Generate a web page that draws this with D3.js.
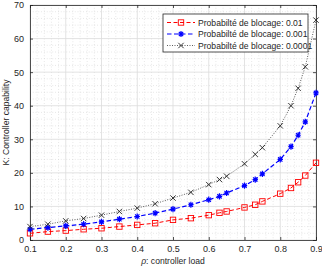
<!DOCTYPE html>
<meta charset="utf-8">
<style>
body { margin: 0; background: #fff; }
svg { font-family: "Liberation Sans", Arial, sans-serif; }
.tick text { font-size: 9px; fill: #262626; }
</style>
<div id="chart"></div>
<script src="https://d3js.org/d3.v7.min.js"></script>
<script>

var loads = [0.1,0.15,0.2,0.25,0.3,0.35,0.4,0.45,0.5,0.55,0.6,0.63,0.65,0.7,0.73,0.75,0.8,0.83,0.85,0.87,0.9];
var block01 = [2.0,2.5,2.8,3.2,3.5,4.0,4.5,5.0,6.0,6.5,7.4,8.1,8.5,9.7,10.5,11.5,13.8,15.5,17.2,19.2,23.0];
var block001 = [3.2,3.7,4.2,4.7,5.4,6.2,7.0,8.0,9.2,10.5,12.0,13.0,14.0,16.2,18.0,19.7,24.0,27.8,31.2,35.2,43.8];
var block0001 = [4.0,4.7,5.7,6.4,7.4,8.5,9.5,10.8,12.5,14.2,16.5,18.0,19.0,22.7,25.5,27.5,34.0,40.0,45.2,51.6,65.5];
var seriesNames = ["Probabilté de blocage: 0.01","Probabilté de blocage: 0.001","Probabilté de blocage: 0.0001"];
var xTicks = [0.1,0.2,0.3,0.4,0.5,0.6,0.7,0.8,0.9];
var yTicks = [0,10,20,30,40,50,60,70];

var width = 322, height = 267;
var m = {left: 30, right: 6, top: 5, bottom: 27};
var w = width - m.left - m.right, h = height - m.top - m.bottom;

var svg = d3.select("#chart").append("svg")
    .attr("width", width)
    .attr("height", height);

var g = svg.append("g").attr("transform", "translate(" + m.left + "," + m.top + ")");

var x = d3.scaleLinear().domain([0.1, 0.9]).range([0, w]);
var y = d3.scaleLinear().domain([0, 70]).range([h, 0]);

// minor grid
g.append("g").selectAll("line")
    .data(d3.range(0.12, 0.9, 0.02).filter(function(v){ return Math.abs(v*10 - Math.round(v*10)) > 0.01; }))
    .enter().append("line")
    .attr("x1", function(d){ return x(d); }).attr("x2", function(d){ return x(d); })
    .attr("y1", 0).attr("y2", h)
    .attr("stroke", "#cfcfcf").attr("stroke-width", 0.6).attr("stroke-dasharray", "0.8,2");
g.append("g").selectAll("line")
    .data(d3.range(2, 70, 2).filter(function(v){ return v % 10 != 0; }))
    .enter().append("line")
    .attr("y1", function(d){ return y(d); }).attr("y2", function(d){ return y(d); })
    .attr("x1", 0).attr("x2", w)
    .attr("stroke", "#cfcfcf").attr("stroke-width", 0.6).attr("stroke-dasharray", "0.8,2");

// major grid
g.append("g").selectAll("line").data(xTicks).enter().append("line")
    .attr("x1", function(d){ return x(d); }).attr("x2", function(d){ return x(d); })
    .attr("y1", 0).attr("y2", h)
    .attr("stroke", "#dcdcdc").attr("stroke-width", 0.8);
g.append("g").selectAll("line").data(yTicks).enter().append("line")
    .attr("y1", function(d){ return y(d); }).attr("y2", function(d){ return y(d); })
    .attr("x1", 0).attr("x2", w)
    .attr("stroke", "#dcdcdc").attr("stroke-width", 0.8);

// axes (ticks inward, box)
var xAxis = g.append("g").attr("transform", "translate(0," + h + ")")
    .call(d3.axisBottom(x).tickValues(xTicks).tickSize(-3).tickPadding(6).tickFormat(d3.format(".1f")));
var yAxis = g.append("g")
    .call(d3.axisLeft(y).tickValues(yTicks).tickSize(-3).tickPadding(6));
var xTop = g.append("g")
    .call(d3.axisTop(x).tickValues(xTicks).tickSize(-3).tickFormat(""));
var yRight = g.append("g").attr("transform", "translate(" + w + ",0)")
    .call(d3.axisRight(y).tickValues(yTicks).tickSize(-3).tickFormat(""));
[xAxis, yAxis, xTop, yRight].forEach(function(a){
  a.selectAll("path").attr("stroke", "#262626").attr("stroke-width", 0.8);
  a.selectAll("line").attr("stroke", "#262626").attr("stroke-width", 0.8);
});

var line = d3.line()
    .x(function(d, i){ return x(loads[i]); })
    .y(function(d){ return y(d); });

var series = [
  {values: block01, color: "#ff0000", dash: "4,2.5", width: 1.0, marker: "square"},
  {values: block001, color: "#0000ff", dash: "4.5,2.5", width: 1.2, marker: "star"},
  {values: block0001, color: "#333333", dash: "1,1.5", width: 0.8, marker: "cross"}
];

function drawMarker(sel, type, color, cx, cy) {
  var s = 2.7;
  if (type == "square") {
    sel.append("rect").attr("x", cx - s).attr("y", cy - s).attr("width", 2*s).attr("height", 2*s)
      .attr("fill", "none").attr("stroke", color).attr("stroke-width", 0.9);
  } else if (type == "star") {
    var p = "M" + (cx-s) + "," + cy + "L" + (cx+s) + "," + cy +
            "M" + cx + "," + (cy-s-0.4) + "L" + cx + "," + (cy+s+0.4) +
            "M" + (cx-s*0.8) + "," + (cy-s*0.8) + "L" + (cx+s*0.8) + "," + (cy+s*0.8) +
            "M" + (cx-s*0.8) + "," + (cy+s*0.8) + "L" + (cx+s*0.8) + "," + (cy-s*0.8);
    sel.append("path").attr("d", p).attr("stroke", color).attr("stroke-width", 1.2).attr("fill", "none");
  } else {
    var p2 = "M" + (cx-s) + "," + (cy-s) + "L" + (cx+s) + "," + (cy+s) +
             "M" + (cx-s) + "," + (cy+s) + "L" + (cx+s) + "," + (cy-s);
    sel.append("path").attr("d", p2).attr("stroke", "#222").attr("stroke-width", 0.9).attr("fill", "none");
  }
}

series.forEach(function(s){
  g.append("path").datum(s.values)
    .attr("d", line)
    .attr("fill", "none")
    .attr("stroke", s.color)
    .attr("stroke-width", s.width)
    .attr("stroke-dasharray", s.dash);
  var mg = g.append("g");
  s.values.forEach(function(v, i){
    drawMarker(mg, s.marker, s.color, x(loads[i]), y(v));
  });
});

// legend
var lg = svg.append("g").attr("transform", "translate(163,14)");
lg.append("rect").attr("width", 145).attr("height", 38)
  .attr("fill", "#fff").attr("stroke", "#262626").attr("stroke-width", 0.8);
series.forEach(function(s, i){
  var yy = 8.5 + i * 11.5;
  lg.append("line").attr("x1", 4).attr("x2", 32).attr("y1", yy).attr("y2", yy)
    .attr("stroke", s.color).attr("stroke-width", s.width).attr("stroke-dasharray", s.dash);
  drawMarker(lg, s.marker, s.color, 18, yy);
  lg.append("text").attr("x", 35).attr("y", yy + 3)
    .attr("font-size", "8.6px").attr("fill", "#262626").text(seriesNames[i]);
});

// axis labels
var xl = svg.append("text").attr("x", m.left + w / 2).attr("y", 264)
  .attr("text-anchor", "middle").attr("font-size", "8.6px").attr("fill", "#262626");
xl.append("tspan").attr("font-style", "italic").text("ρ");
xl.append("tspan").text(": controller load");

svg.append("text")
  .attr("transform", "translate(9," + (m.top + h / 2) + ") rotate(-90)")
  .attr("text-anchor", "middle").attr("font-size", "8.6px").attr("fill", "#262626")
  .text("K: Controller capability");

</script>
